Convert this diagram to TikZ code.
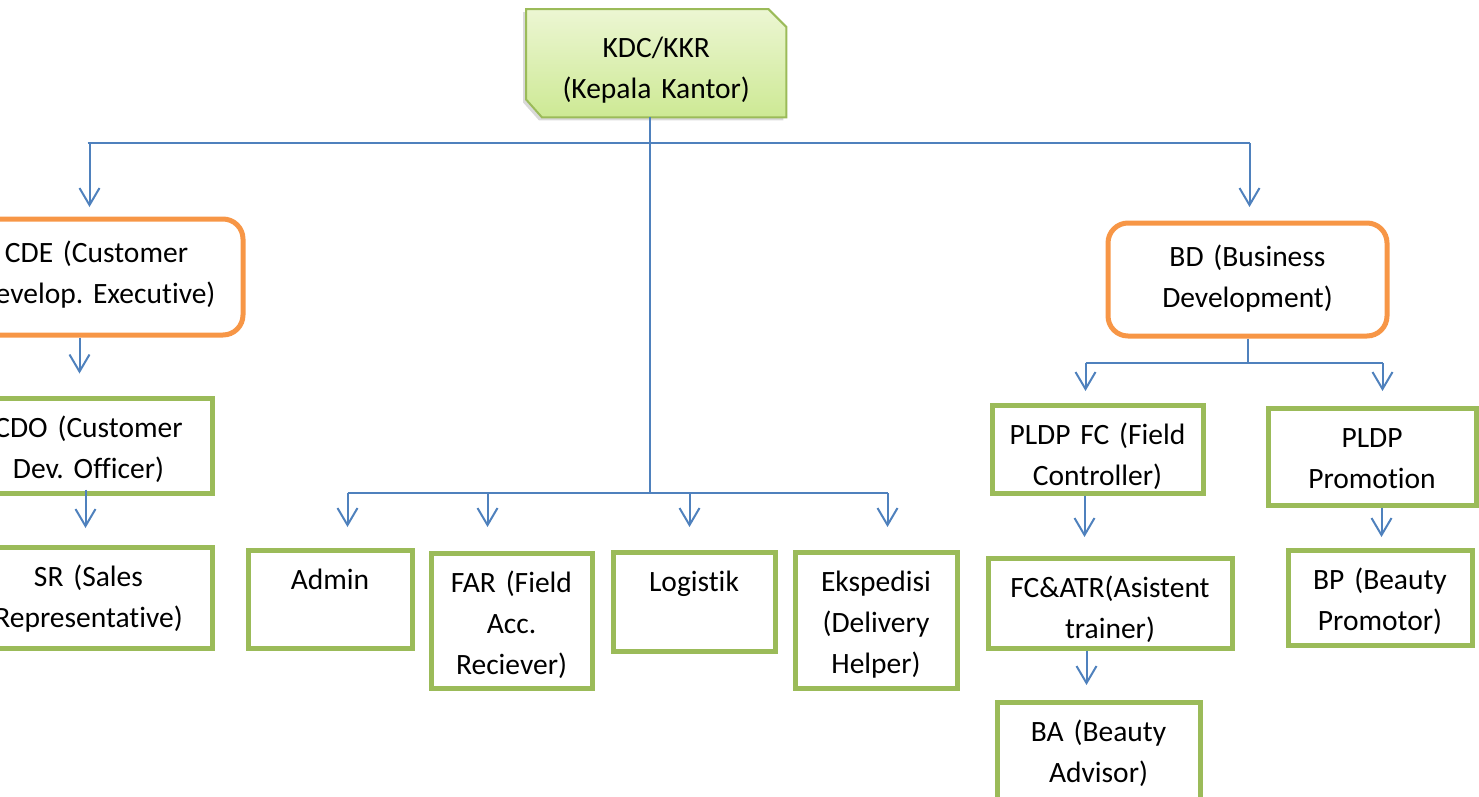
\documentclass[tikz,border=0pt]{standalone}
\usepackage{fontspec}
\setmainfont{Carlito}[Ligatures=CommonOff]
\usepackage{xcolor}
\usepackage{tikz}
\usetikzlibrary{arrows.meta,shadows,backgrounds}

\definecolor{linkblue}{RGB}{79,129,189}
\definecolor{boxgreen}{RGB}{155,187,89}
\definecolor{boxorange}{RGB}{247,150,70}
\definecolor{kdctop}{RGB}{236,246,211}
\definecolor{kdcbot}{RGB}{205,233,148}
\frenchspacing

\begin{document}
\begin{tikzpicture}[x=1pt,y=-1pt,
gbox/.style={draw=boxgreen,line width=5pt,inner sep=0pt,align=center,anchor=north west,text height=39.5pt,font=\fontsize{29.5}{41}\selectfont},
obox/.style={gbox,draw=boxorange,rounded corners=20pt,text height=43.5pt},
link/.style={draw=linkblue,line width=2pt},
arr/.style={link,-{Straight Barb[length=17pt,width=20pt]}}]
\useasboundingbox (0,0) rectangle (1479,796);
\clip (0,0) rectangle (1479,796);
% head office
\node[inner sep=0pt,align=center,anchor=north west,text width=260pt,text height=48pt,text depth=60pt,font=\fontsize{29.5}{41}\selectfont] (kdc) at (526,9) {KDC/KKR\\(Kepala Kantor)};
\begin{scope}[on background layer]
\draw[draw=boxgreen,line width=2pt,top color=kdctop,bottom color=kdcbot,drop shadow={shadow xshift=-3pt,shadow yshift=-3pt,opacity=.3}]
  (kdc.north west) -- ([xshift=-18pt]kdc.north east) -- ([yshift=-18pt]kdc.north east) -- (kdc.south east)
  -- ([xshift=16pt]kdc.south west) -- ([yshift=18pt]kdc.south west) -- cycle;
\end{scope}
% left branch
\node[obox,text width=293pt,text depth=72.5pt] (cde) at (-52.5,216.5) {CDE (Customer\\Develop. Executive)};
\node[gbox,text width=247pt,text depth=55.5pt] (cdo) at (-37.5,395.5) {CDO (Customer\\Dev. Officer)};
\node[gbox,text width=247pt,text depth=61.5pt] (sr) at (-37.5,544.5) {SR (Sales\\Representative)};
% middle row
\node[gbox,text width=164pt,text depth=58.5pt] (admin) at (245.5,547.5) {Admin};
\node[gbox,text width=161pt,text depth=95.5pt] (far) at (428.5,550.5) {FAR (Field\\Acc.\\Reciever)};
\node[gbox,text width=162pt,text depth=59.5pt] (logistik) at (610.5,549.5) {Logistik};
\node[gbox,text width=162pt,text depth=96.5pt] (eksp) at (792.5,549.5) {Ekspedisi\\(Delivery\\Helper)};
% right branch
\node[obox,text width=279pt,text depth=69.5pt] (bd) at (1105.5,220.5) {BD (Business\\Development)};
\node[gbox,text width=211pt,text depth=48.5pt] (pldpfc) at (989.5,402.5) {PLDP FC (Field\\Controller)};
\node[gbox,text width=208pt,text depth=57.5pt] (pldpp) at (1265.5,405.5) {PLDP\\Promotion};
\node[gbox,text width=244pt,text depth=50.5pt] (fcatr) at (985.5,555.5) {FC\&ATR(Asistent\\trainer)};
\node[gbox,text width=184pt,text depth=55.5pt] (bp) at (1285.5,547.5) {BP (Beauty\\Promotor)};
\node[gbox,text width=203pt,text depth=62pt] (ba) at (994.5,699.5) {BA (Beauty\\Advisor)};
% connectors
\coordinate (topbus) at (650,143);
\coordinate (midbus) at (650,493);
\coordinate (bdbus) at (1245,363);
\draw[link] (kdc.south -| topbus) -- (midbus);
\draw[link] ([xshift=-9pt]cde.north |- topbus) -- ([xshift=2pt]bd.north |- topbus);
\draw[arr,shorten >=9.5pt] ([xshift=-7pt]cde.north |- topbus) -- ([xshift=-7pt]cde.north);
\draw[arr,shorten >=13.5pt] ([xshift=2pt]bd.north |- topbus) -- ([xshift=2pt]bd.north);
\draw[arr,shorten >=22pt] ([xshift=-9pt]cdo.north |- cde.south) -- ([xshift=-9pt]cdo.north);
\draw[arr,shorten >=16.5pt] ([xshift=-3pt,yshift=6pt]cdo.south) -- ([xshift=-3pt]sr.north);
\draw[link] ([xshift=17.5pt]admin.north |- midbus) -- ([xshift=11.5pt]eksp.north |- midbus);
\draw[arr,shorten >=20.5pt] ([xshift=17.5pt]admin.north |- midbus) -- ([xshift=17.5pt]admin.north);
\draw[arr,shorten >=23.5pt] ([xshift=-24pt]far.north |- midbus) -- ([xshift=-24pt]far.north);
\draw[arr,shorten >=22.5pt] ([xshift=-4.5pt]logistik.north |- midbus) -- ([xshift=-4.5pt]logistik.north);
\draw[arr,shorten >=22.5pt] ([xshift=11.5pt]eksp.north |- midbus) -- ([xshift=11.5pt]eksp.north);
\draw[link] (bd.south) -- (bd.south |- bdbus);
\draw[link] ([xshift=-12pt]pldpfc.north |- bdbus) -- ([xshift=10.5pt]pldpp.north |- bdbus);
\draw[arr,shorten >=11.5pt] ([xshift=-12pt]pldpfc.north |- bdbus) -- ([xshift=-12pt]pldpfc.north);
\draw[arr,shorten >=14.5pt] ([xshift=10.5pt]pldpp.north |- bdbus) -- ([xshift=10.5pt]pldpp.north);
\draw[arr,shorten >=18.5pt] ([xshift=-25.5pt]fcatr.north |- pldpfc.south) -- ([xshift=-25.5pt]fcatr.north);
\draw[arr,shorten >=14.5pt] ([xshift=-12pt]ba.north |- fcatr.south) -- ([xshift=-12pt]ba.north);
\draw[arr,shorten >=10.5pt] ([xshift=1.5pt]bp.north |- pldpp.south) -- ([xshift=1.5pt]bp.north);
\end{tikzpicture}
\end{document}
